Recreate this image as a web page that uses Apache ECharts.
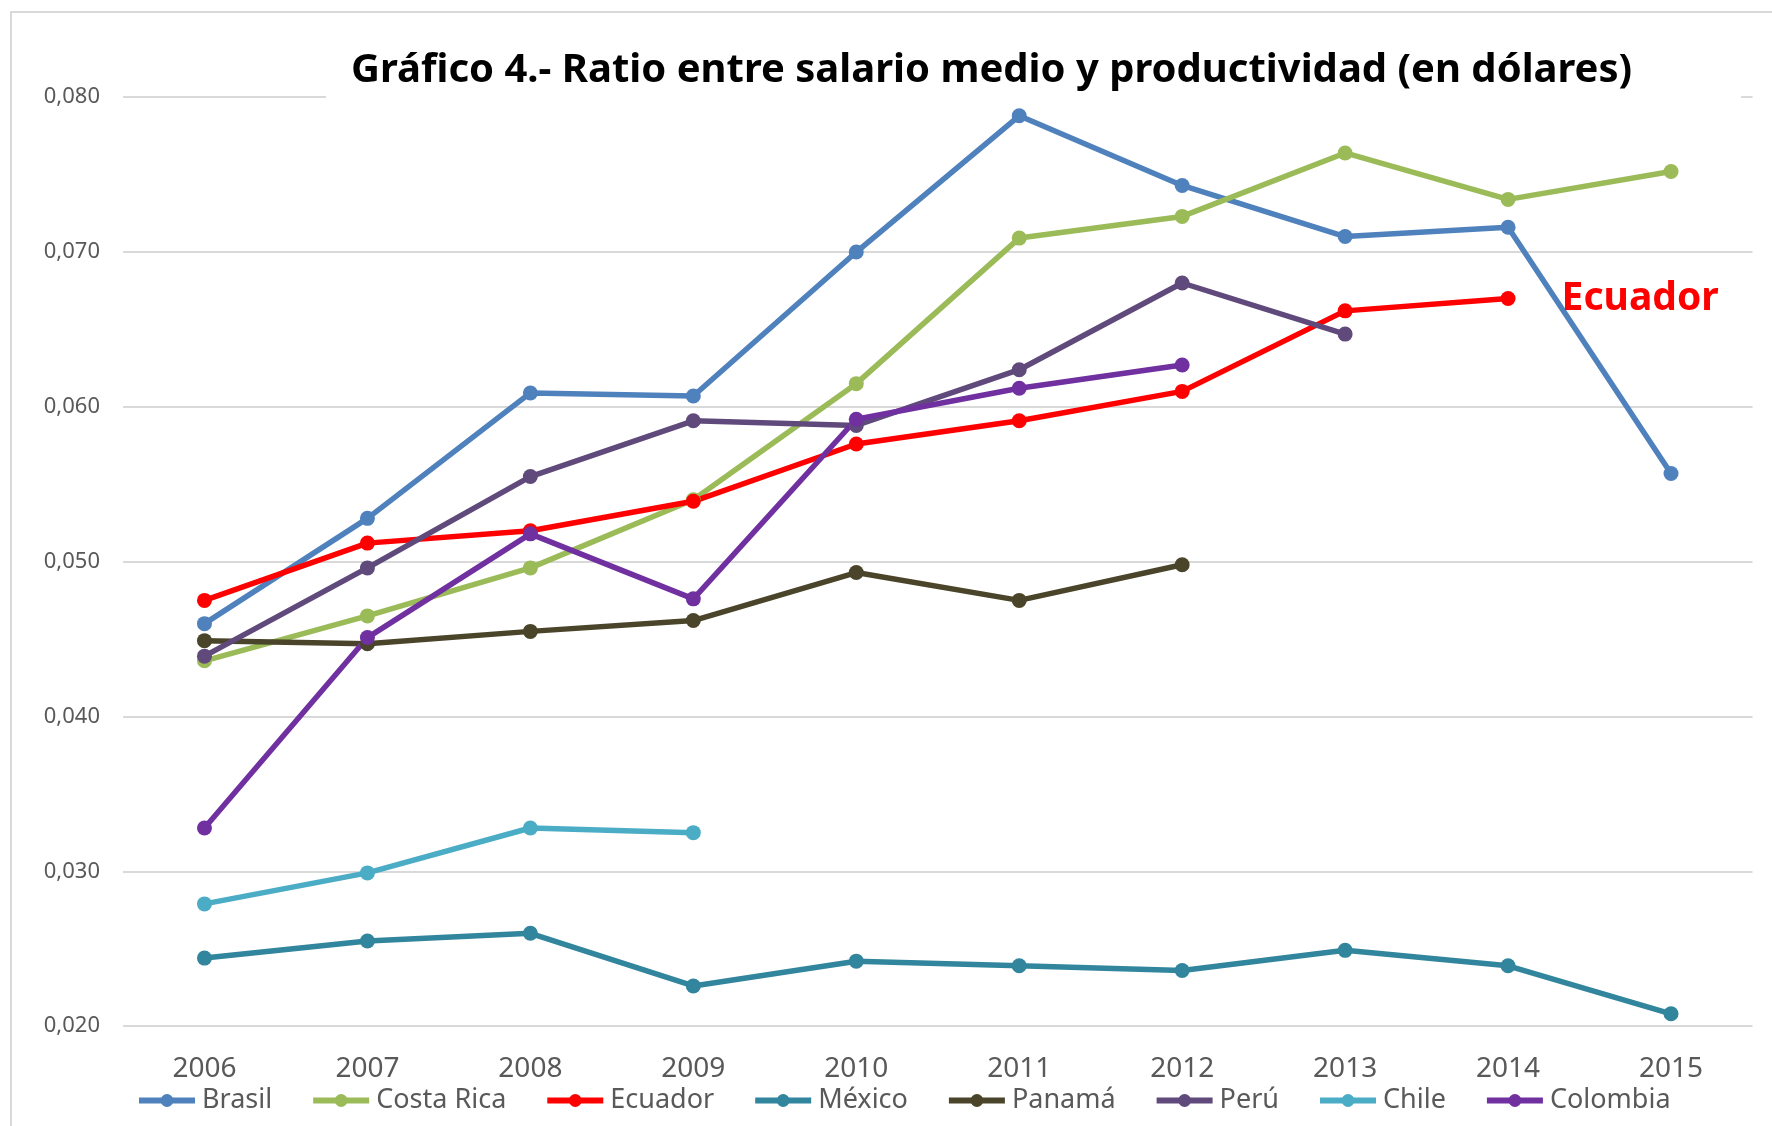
<!DOCTYPE html>
<html>
<head>
<meta charset="utf-8">
<script src="https://cdn.jsdelivr.net/npm/echarts@6/dist/echarts.min.js"></script>
<style>
  html, body { margin: 0; padding: 0; background: #fff; }
  #grafico4 { width: 1772px; height: 1126px; }
</style>
</head>
<body>
<div id="grafico4"></div>
<script>
var years = ['2006', '2007', '2008', '2009', '2010', '2011', '2012', '2013', '2014', '2015'];

var brasil    = [0.0460, 0.0528, 0.0609, 0.0607, 0.0700, 0.0788, 0.0743, 0.0710, 0.0716, 0.0557];
var costaRica = [0.0436, 0.0465, 0.0496, 0.0540, 0.0615, 0.0709, 0.0723, 0.0764, 0.0734, 0.0752];
var ecuador   = [0.0475, 0.0512, 0.0520, 0.0539, 0.0576, 0.0591, 0.0610, 0.0662, 0.0670, null];
var mexico    = [0.0244, 0.0255, 0.0260, 0.0226, 0.0242, 0.0239, 0.0236, 0.0249, 0.0239, 0.0208];
var panama    = [0.0449, 0.0447, 0.0455, 0.0462, 0.0493, 0.0475, 0.0498, null, null, null];
var peru      = [0.0439, 0.0496, 0.0555, 0.0591, 0.0588, 0.0624, 0.0680, 0.0647, null, null];
var chile     = [0.0279, 0.0299, 0.0328, 0.0325, null, null, null, null, null, null];
var colombia  = [0.0328, 0.0451, 0.0518, 0.0476, 0.0592, 0.0612, 0.0627, null, null, null];

var yTicks = { min: 0.020, max: 0.080, step: 0.010 };

var paises = [
    { name: 'Brasil',     data: brasil,    color: '#4f81bd' },
    { name: 'Costa Rica', data: costaRica, color: '#9bbb59' },
    { name: 'Ecuador',    data: ecuador,   color: '#ff0000' },
    { name: 'México',     data: mexico,    color: '#31859c' },
    { name: 'Panamá',     data: panama,    color: '#4a452a' },
    { name: 'Perú',       data: peru,      color: '#604a7b' },
    { name: 'Chile',      data: chile,     color: '#4bacc6' },
    { name: 'Colombia',   data: colombia,  color: '#7030a0' }
];

var fuente = '"Noto Sans", "Open Sans", sans-serif';

function serieData(p) {
    if (p.name !== 'Ecuador') return p.data;
    // etiqueta "Ecuador" junto al último punto con dato
    var last = -1;
    for (var i = 0; i < p.data.length; i++) {
        if (p.data[i] != null) last = i;
    }
    return p.data.map(function (v, i) {
        if (i !== last) return v;
        return {
            value: v,
            label: {
                show: true,
                position: 'right',
                distance: 46,
                formatter: 'Ecuador',
                color: '#ff0000',
                fontFamily: fuente,
                fontWeight: 'bold',
                fontSize: 39
            }
        };
    });
}

var series = paises.map(function (p) {
    return {
        name: p.name,
        type: 'line',
        data: serieData(p),
        color: p.color,
        symbol: 'circle',
        symbolSize: 15,
        showAllSymbol: true,
        connectNulls: false,
        lineStyle: { width: 5.5, color: p.color },
        itemStyle: { color: p.color },
        emphasis: { disabled: true },
        animation: false
    };
});

var option = {
    backgroundColor: '#fff',
    title: {
        text: 'Gráfico 4.- Ratio entre salario medio y productividad (en dólares)',
        left: 326,
        top: 42,
        padding: [6, 109, 12, 25],
        backgroundColor: '#fff',
        textStyle: {
            fontFamily: fuente,
            fontWeight: 'bold',
            fontSize: 40,
            lineHeight: 46,
            color: '#000'
        }
    },
    legend: {
        left: 131,
        top: 1082,
        itemWidth: 56,
        itemHeight: 16,
        itemGap: 38,
        lineStyle: { width: 6 },
        textStyle: { fontFamily: fuente, fontSize: 27, color: '#595959', padding: [0, 0, 0, 2] },
        data: paises.map(function (p) { return p.name; })
    },
    grid: {
        left: 123,
        right: 19.5,
        top: 97.2,
        bottom: 99.8
    },
    xAxis: {
        type: 'category',
        data: years,
        boundaryGap: true,
        axisLine: { show: false },
        axisTick: { show: false },
        axisLabel: { fontFamily: fuente, fontSize: 28, color: '#595959', margin: 28.5 }
    },
    yAxis: {
        type: 'value',
        min: yTicks.min,
        max: yTicks.max,
        interval: yTicks.step,
        axisLine: { show: false },
        axisTick: { show: false },
        axisLabel: {
            fontFamily: fuente,
            fontSize: 22,
            color: '#595959',
            margin: 23,
            formatter: function (v) { return v.toFixed(3).replace('.', ','); }
        },
        splitLine: { lineStyle: { color: '#d9d9d9', width: 2 } }
    },
    graphic: [{
        type: 'rect',
        silent: true,
        z: -1,
        shape: { x: 11, y: 12, width: 1800, height: 1200 },
        style: { fill: null, stroke: '#d9d9d9', lineWidth: 2 }
    }],
    series: series
};

var myChart = echarts.init(document.getElementById('grafico4'));
myChart.setOption(option);
</script>
</body>
</html>
